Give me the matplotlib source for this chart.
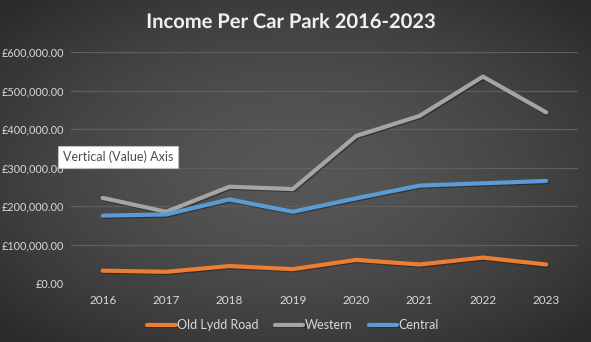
import numpy as np
import matplotlib
matplotlib.use('Agg')
import matplotlib.pyplot as plt
import matplotlib.patheffects as pe
from matplotlib.ticker import FuncFormatter

years = ['2016', '2017', '2018', '2019', '2020', '2021', '2022', '2023']
old_lydd = [32000, 29000, 44000, 36000, 60000, 48000, 66000, 48000]
western = [221000, 185000, 250000, 244000, 382000, 434000, 536000, 443000]
central = [175000, 178000, 217000, 185000, 220000, 253000, 259000, 265000]
series_names = ['Old Lydd Road', 'Western', 'Central']
colors = ['#ED7D31', '#A5A5A5', '#5B9BD5']

plt.rcParams['font.family'] = ['Lato', 'DejaVu Sans']

fig = plt.figure(figsize=(5.91, 3.42), dpi=100)

# radial gradient background
bg = fig.add_axes([0, 0, 1, 1], zorder=0)
yy, xx = np.mgrid[-1:1:342j, -1:1:591j]
r = np.sqrt(xx**2 + yy**2)
shade = 0.34 - 0.17 * np.clip(r / 1.35, 0, 1) ** 1.6
bg.imshow(np.dstack([shade, shade, shade]), aspect='auto', extent=[0, 1, 0, 1])
bg.axis('off')

ax = fig.add_axes([71 / 591, 1 - 283 / 342, (578 - 71) / 591, (283 - 52) / 342], zorder=1)
ax.patch.set_alpha(0)

x = np.arange(len(years))
for vals, name, c in zip([old_lydd, western, central], series_names, colors):
    ax.plot(x, vals, color=c, lw=3, label=name, solid_capstyle='round',
            path_effects=[pe.SimpleLineShadow(offset=(0.8, -0.8), alpha=0.35), pe.Normal()])

ax.set_xlim(-0.5, 7.5)
ax.set_ylim(0, 600000)
ax.set_yticks(np.arange(0, 600001, 100000))
ax.yaxis.set_major_formatter(FuncFormatter(lambda v, p: '£{:,.2f}'.format(v)))
ax.set_xticks(x)
ax.set_xticklabels(years)
ax.grid(axis='y', color='#5f5f5f', lw=0.9)
ax.set_axisbelow(True)
for s in ax.spines.values():
    s.set_visible(False)
ax.tick_params(length=0, colors='#d9d9d9', labelsize=8.5)
ax.tick_params(axis='x', pad=9)
ax.tick_params(axis='y', pad=5, labelsize=7.8)

fig.text(291 / 591, 1 - 22 / 342, 'Income Per Car Park 2016-2023', ha='center', va='center',
         color='#f2f2f2', fontsize=14.5, fontweight='bold',
         path_effects=[pe.withSimplePatchShadow(offset=(1, -1), alpha=0.6)])

leg = fig.legend(loc='center', bbox_to_anchor=(293 / 591, 1 - 325 / 342), ncol=3, frameon=False,
                 fontsize=9, handlelength=2.3, columnspacing=1.3, handletextpad=0.1,
                 labelcolor='#d9d9d9')

fig.text(118 / 591, 1 - 157 / 342, 'Vertical (Value) Axis', ha='center', va='center',
         fontsize=9, color='#4d4d4d', zorder=5,
         bbox=dict(boxstyle='square,pad=0.35', fc='white', ec='#bfbfbf', lw=0.8))

fig.savefig('out.png', dpi=100)
